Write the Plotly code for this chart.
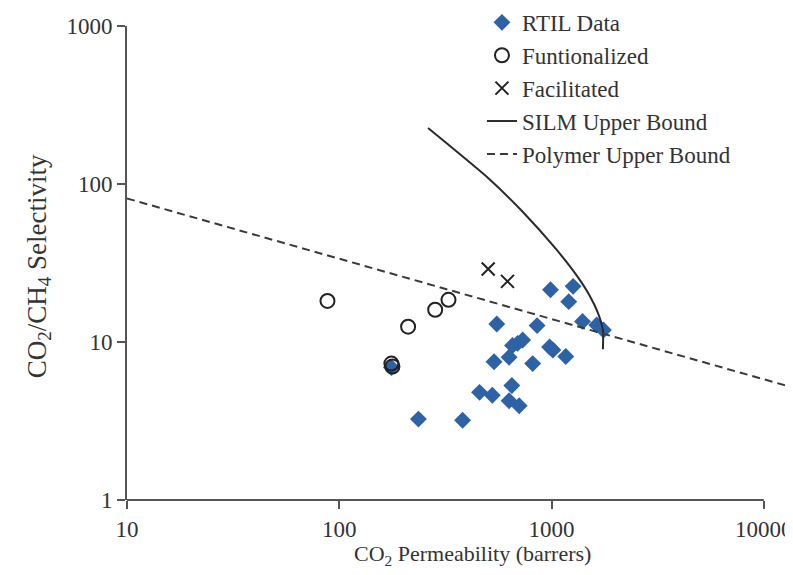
import plotly.graph_objects as go

# RTIL data (CO2 permeability, CO2/CH4 selectivity)
rtil_x = [989, 1264, 1205, 552, 855, 1400, 1633, 1756, 655, 731, 692, 979, 1015,
          631, 536, 815, 1167, 650, 458, 526, 631, 704, 236, 381, 176]
rtil_y = [21.4, 22.5, 18.0, 13.0, 12.7, 13.5, 12.8, 11.9, 9.5, 10.3, 9.8, 9.3, 8.9,
          8.0, 7.5, 7.3, 8.1, 5.3, 4.8, 4.6, 4.25, 3.95, 3.25, 3.2, 6.9]

func_x = [88, 176, 178, 211, 283, 327]
func_y = [18.2, 7.3, 7.0, 12.5, 16.0, 18.5]

fac_x = [503, 620]
fac_y = [29.0, 24.2]

silm_x = [262, 507, 733, 1049, 1318, 1517, 1654, 1746, 1746]
silm_y = [226, 108, 66.5, 38.8, 26.2, 19.5, 15.3, 11.9, 9.0]

poly_x = [10, 12700]
poly_y = [81, 5.3]

x_ticks = [10, 100, 1000, 10000]
y_ticks = [1, 10, 100, 1000]

FONT = "Liberation Serif"
TXT = "#333333"

fig = go.Figure()
fig.add_trace(go.Scatter(x=rtil_x, y=rtil_y, mode="markers", name="RTIL Data",
                         marker=dict(symbol="diamond", size=13, color="#2E62A6")))
fig.add_trace(go.Scatter(x=func_x, y=func_y, mode="markers", name="Funtionalized",
                         marker=dict(symbol="circle-open", size=14, color="#222222",
                                     line=dict(width=2, color="#222222"))))
fig.add_trace(go.Scatter(x=fac_x, y=fac_y, mode="markers", name="Facilitated",
                         marker=dict(symbol="x-thin-open", size=13, color="#222222",
                                     line=dict(width=2, color="#222222"))))
fig.add_trace(go.Scatter(x=silm_x, y=silm_y, mode="lines", name="SILM Upper Bound",
                         line=dict(color="#2a2a2a", width=2, shape="spline", smoothing=0.6)))
fig.add_trace(go.Scatter(x=poly_x, y=poly_y, mode="lines", name="Polymer Upper Bound",
                         line=dict(color="#3a3a3a", width=2, dash="8px,5px")))

# axis line for x drawn from 10 to 10000
fig.add_shape(type="line", xref="x", yref="paper", x0=10, x1=10000, y0=0, y1=0,
              line=dict(color="#555555", width=2))

fig.update_xaxes(type="log", range=[1, 4.114], tickvals=x_ticks,
                 ticktext=[str(v) for v in x_ticks], ticks="outside", ticklen=8,
                 tickwidth=2, tickcolor="#555555", showline=False, showgrid=False,
                 zeroline=False, automargin=False,
                 tickfont=dict(family=FONT, size=23, color=TXT))
fig.update_yaxes(type="log", range=[0, 3], tickvals=y_ticks,
                 ticktext=[str(v) for v in y_ticks], ticks="outside", ticklen=8,
                 tickwidth=2, tickcolor="#555555", showline=True, linecolor="#555555",
                 linewidth=2, showgrid=False, zeroline=False, automargin=False,
                 tickfont=dict(family=FONT, size=23, color=TXT))

fig.add_annotation(text="CO<sub>2</sub> Permeability (barrers)", xref="paper", yref="paper",
                   x=0.522, y=-0.115, xanchor="center", yanchor="middle", showarrow=False,
                   font=dict(family=FONT, size=22, color=TXT))
fig.add_annotation(text="CO<sub>2</sub>/CH<sub>4</sub> Selectivity", xref="paper", yref="paper",
                   x=-0.134, y=0.494, xanchor="center", yanchor="middle", showarrow=False,
                   textangle=-90, font=dict(family=FONT, size=27, color=TXT))

fig.update_layout(width=793, height=575,
                  margin=dict(l=119, r=13, t=18, b=83, autoexpand=False),
                  paper_bgcolor="white", plot_bgcolor="white", showlegend=True,
                  legend=dict(x=0.537, y=1.053, xanchor="left", yanchor="top",
                              font=dict(family=FONT, size=23, color=TXT),
                              bgcolor="rgba(0,0,0,0)", itemwidth=30, tracegroupgap=0))

fig.write_html("out.html")
